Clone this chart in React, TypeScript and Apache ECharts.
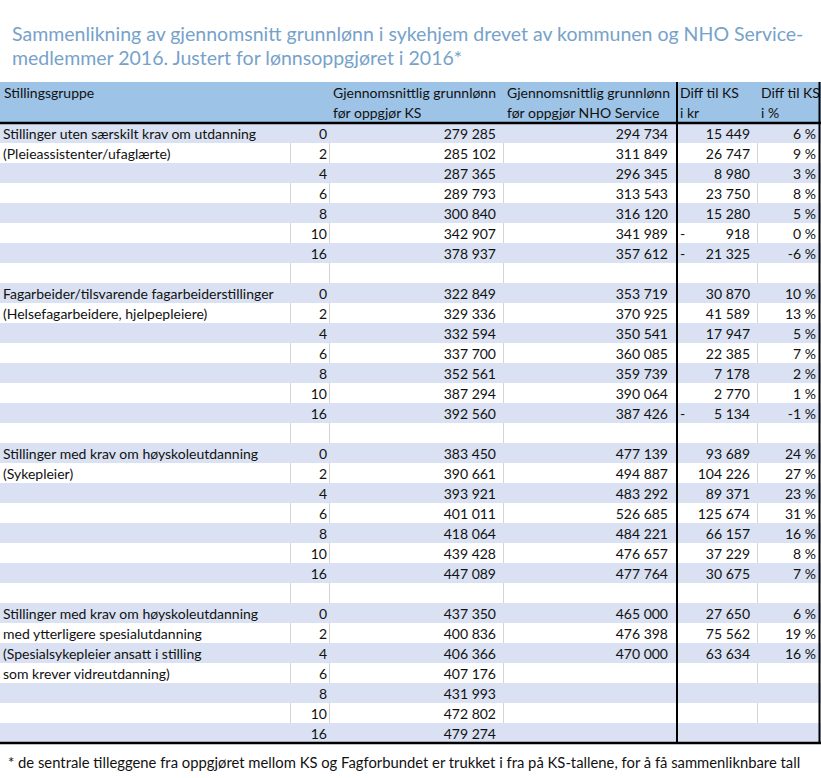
import React, { useEffect, useRef } from "react";
import * as echarts from "echarts";

const titleLines = [
  "Sammenlikning av gjennomsnitt grunnlønn i sykehjem drevet av kommunen og NHO Service-",
  "medlemmer 2016. Justert for lønnsoppgjøret i 2016*",
];
const footnote =
  "* de sentrale tilleggene fra oppgjøret mellom KS og Fagforbundet er trukket i fra på KS-tallene, for å få sammenliknbare tall";

const headerTexts = [
  ["Stillingsgruppe"],
  [],
  ["Gjennomsnittlig grunnlønn", "før oppgjør KS"],
  ["Gjennomsnittlig grunnlønn", "før oppgjør NHO Service"],
  ["Diff til KS", "i kr"],
  ["Diff til KS", "i %"],
];

const groupLabels = [
  ["Stillinger uten særskilt krav om utdanning", "(Pleieassistenter/ufaglærte)"],
  ["Fagarbeider/tilsvarende fagarbeiderstillinger", "(Helsefagarbeidere, hjelpepleiere)"],
  ["Stillinger med krav om høyskoleutdanning", "(Sykepleier)"],
  [
    "Stillinger med krav om høyskoleutdanning",
    "med ytterligere spesialutdanning",
    "(Spesialsykepleier ansatt i stilling",
    "som krever vidreutdanning)",
  ],
];

const seniority = [0, 2, 4, 6, 8, 10, 16];

const ksSalary = [
  [279285, 285102, 287365, 289793, 300840, 342907, 378937],
  [322849, 329336, 332594, 337700, 352561, 387294, 392560],
  [383450, 390661, 393921, 401011, 418064, 439428, 447089],
  [437350, 400836, 406366, 407176, 431993, 472802, 479274],
];

const nhoSalary = [
  [294734, 311849, 296345, 313543, 316120, 341989, 357612],
  [353719, 370925, 350541, 360085, 359739, 390064, 387426],
  [477139, 494887, 483292, 526685, 484221, 476657, 477764],
  [465000, 476398, 470000, null, null, null, null],
];

const diffKr = [
  [15449, 26747, 8980, 23750, 15280, -918, -21325],
  [30870, 41589, 17947, 22385, 7178, 2770, -5134],
  [93689, 104226, 89371, 125674, 66157, 37229, 30675],
  [27650, 75562, 63634, null, null, null, null],
];

const diffPct = [
  [6, 9, 3, 8, 5, 0, -6],
  [10, 13, 5, 7, 2, 1, -1],
  [24, 27, 23, 31, 16, 8, 7],
  [6, 19, 16, null, null, null, null],
];

// ---- layout (not data) ----
const W = 821;
const H = 778;
const FONT = "Lato, 'Liberation Sans', sans-serif";
const BODY_SIZE = 14;
const FOOT_SIZE = 14.8;
const TITLE_SIZE = 19.5;
const HEADER_TOP = 82;
const TABLE_TOP = 123;
const ROW_H = 20;
const X_LABEL = 3;
const X_YEARS_R = 327;
const X_KS_R = 496;
const X_NHO_R = 668;
const X_DASH = 680;
const X_DIFF_R = 750;
const X_PCT_R = 816;
const X_THICK = 677;
const GRID_XS = [290, 329, 503, 757];
const HEADER_XS = [4, 0, 333, 507, 680, 761];
const SHADE = "#D9E1F2";
const HEADER_FILL = "#9DC3E6";
const GRID_COLOR = "#D4D4D4";
const TITLE_COLOR = "#76A2CA";
const TEXT_COLOR = "#111";

type Row = {
  label: string;
  years: number | null;
  ks: number | null;
  nho: number | null;
  diff: number | null;
  pct: number | null;
};

const fmt = (n: number) => String(Math.abs(n)).replace(/\B(?=(\d{3})+(?!\d))/g, " ");

function buildRows(): Row[] {
  const rows: Row[] = [];
  groupLabels.forEach((labels, g) => {
    seniority.forEach((yr, j) => {
      rows.push({
        label: labels[j] ?? "",
        years: yr,
        ks: ksSalary[g][j],
        nho: nhoSalary[g][j],
        diff: diffKr[g][j],
        pct: diffPct[g][j],
      });
    });
    if (g < groupLabels.length - 1) {
      rows.push({ label: "", years: null, ks: null, nho: null, diff: null, pct: null });
    }
  });
  return rows;
}

export default function App() {
  const ref = useRef<HTMLDivElement>(null);

  useEffect(() => {
    if (!ref.current) return;
    const chart = echarts.init(ref.current, null, { renderer: "svg" });
    const rows = buildRows();
    const nRows = rows.length;
    const tableBottom = TABLE_TOP + nRows * ROW_H;

    const txt = (text: string, x: number, y: number, align: string, extra: any = {}) => ({
      type: "text",
      x,
      y,
      silent: true,
      style: {
        text,
        align,
        verticalAlign: "middle",
        fill: TEXT_COLOR,
        font: `${BODY_SIZE}px ${FONT}`,
        ...extra,
      },
    });

    const renderItem = (params: any, api: any) => {
      const i = api.value(1);
      const r = rows[i];
      const [xl, yc] = api.coord([0, i]);
      const [xr] = api.coord([W, i]);
      const h = api.size([0, 1])[1];
      const top = yc - h / 2;
      const children: any[] = [];
      if (i % 2 === 0) {
        children.push({
          type: "rect",
          shape: { x: xl, y: top, width: xr - xl, height: h },
          style: { fill: SHADE },
        });
      } else {
        GRID_XS.forEach((gx) => {
          const [px] = api.coord([gx, i]);
          children.push({
            type: "line",
            shape: { x1: px + 0.5, y1: top, x2: px + 0.5, y2: top + h },
            style: { stroke: GRID_COLOR, lineWidth: 1 },
          });
        });
      }
      const px = (v: number) => api.coord([v, i])[0];
      if (r.label) children.push(txt(r.label, px(X_LABEL), yc, "left"));
      if (r.years != null) children.push(txt(String(r.years), px(X_YEARS_R), yc, "right"));
      if (r.ks != null) children.push(txt(fmt(r.ks), px(X_KS_R), yc, "right"));
      if (r.nho != null) children.push(txt(fmt(r.nho), px(X_NHO_R), yc, "right"));
      if (r.diff != null) {
        if (r.diff < 0) children.push(txt("-", px(X_DASH), yc, "left"));
        children.push(txt(fmt(r.diff), px(X_DIFF_R), yc, "right"));
      }
      if (r.pct != null) children.push(txt(`${r.pct} %`, px(X_PCT_R), yc, "right"));
      return { type: "group", children };
    };

    const graphics: any[] = [];
    titleLines.forEach((t, k) => {
      graphics.push({
        type: "text",
        x: 12,
        y: 33 + k * 24,
        z: 100,
        style: {
          text: t,
          verticalAlign: "middle",
          fill: TITLE_COLOR,
          font: `${TITLE_SIZE}px ${FONT}`,
        },
      });
    });
    graphics.push({
      type: "rect",
      z: 1,
      shape: { x: 0, y: HEADER_TOP, width: W, height: TABLE_TOP - HEADER_TOP },
      style: { fill: HEADER_FILL },
    });
    headerTexts.forEach((lines, c) => {
      lines.forEach((t, k) => {
        graphics.push({
          type: "text",
          z: 100,
          x: HEADER_XS[c],
          y: HEADER_TOP + 10 + k * 20,
          style: {
            text: t,
            align: "left",
            verticalAlign: "middle",
            fill: TEXT_COLOR,
            font: `${BODY_SIZE}px ${FONT}`,
          },
        });
      });
    });
    const black = { stroke: "#000" };
    graphics.push(
      {
        type: "line",
        z: 100,
        shape: { x1: 0, y1: TABLE_TOP, x2: W, y2: TABLE_TOP },
        style: { ...black, lineWidth: 2.5 },
      },
      {
        type: "line",
        z: 100,
        shape: { x1: 0, y1: tableBottom, x2: W, y2: tableBottom },
        style: { ...black, lineWidth: 2.5 },
      },
      {
        type: "line",
        z: 100,
        shape: { x1: X_THICK, y1: HEADER_TOP, x2: X_THICK, y2: tableBottom },
        style: { ...black, lineWidth: 2 },
      },
      {
        type: "line",
        z: 100,
        shape: { x1: W - 1.5, y1: HEADER_TOP, x2: W - 1.5, y2: tableBottom },
        style: { ...black, lineWidth: 2 },
      }
    );
    graphics.push({
      type: "text",
      z: 100,
      x: 8,
      y: 762,
      style: {
        text: footnote,
        align: "left",
        verticalAlign: "middle",
        fill: TEXT_COLOR,
        font: `${FOOT_SIZE}px ${FONT}`,
      },
    });

    chart.setOption({
      animation: false,
      backgroundColor: "#fff",
      grid: { left: 0, right: 0, top: TABLE_TOP, height: nRows * ROW_H, containLabel: false },
      xAxis: { type: "value", min: 0, max: W, show: false },
      yAxis: {
        type: "category",
        inverse: true,
        show: false,
        data: rows.map((_, i) => String(i)),
      },
      series: [
        {
          type: "custom",
          renderItem,
          encode: { x: 0, y: 1 },
          data: rows.map((_, i) => [0, i]),
          z: 2,
        },
      ],
      graphic: graphics,
    });

    return () => chart.dispose();
  }, []);

  return (
    <div
      ref={ref}
      style={{ position: "fixed", left: 0, top: 0, width: W, height: H }}
    />
  );
}
